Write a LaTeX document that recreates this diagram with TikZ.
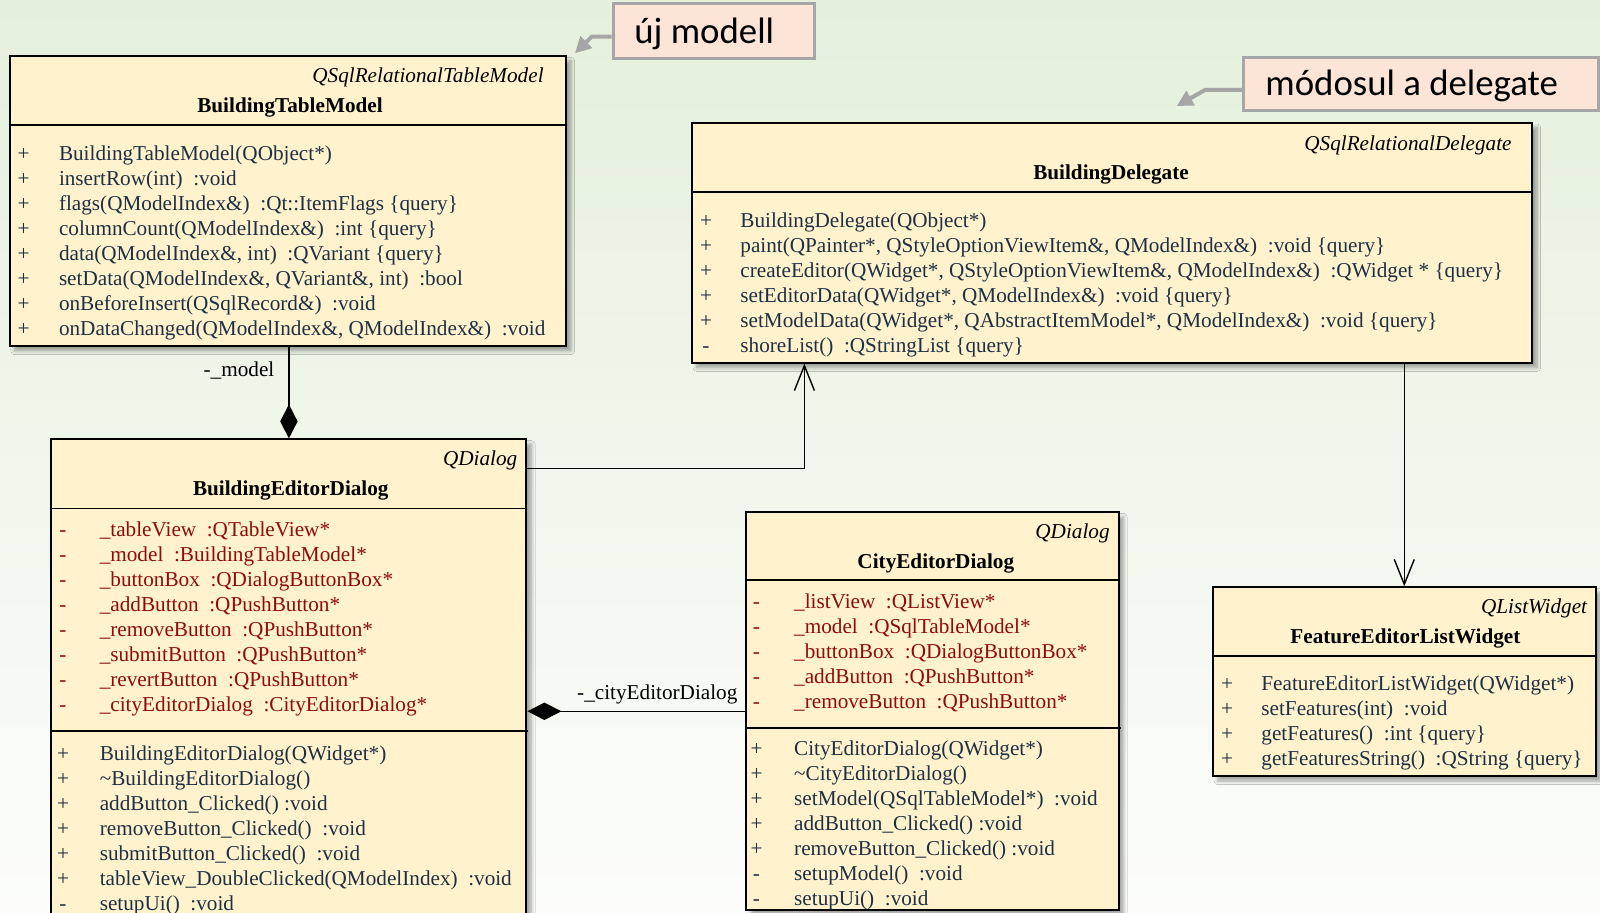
\documentclass[tikz,border=0pt]{standalone}
\usepackage{fontspec}
\setmainfont{Liberation Serif}
\newfontfamily\calfont{Carlito}
\usetikzlibrary{arrows.meta,calc,fit,shadows.blur}
\definecolor{bgtop}{RGB}{228,240,220}
\definecolor{bgbot}{RGB}{252,253,251}
\definecolor{boxfill}{RGB}{255,242,204}
\definecolor{attrred}{RGB}{142,12,12}
\definecolor{optext}{RGB}{30,48,68}
\definecolor{calfill}{RGB}{252,228,214}
\definecolor{calgray}{RGB}{166,166,166}
\newcommand\dsp{\hspace{0.5em}}
\newcommand\umlrows[6]{%
  \foreach \rs/\rt [count=\i from 0] in {#6}{%
    \node[signtxt,#5] (#1s\i) at (#2,{#4+25*\i}) {\rs};
    \node[rowtxt,#5] (#1t\i) at (#3,{#4+25*\i}) {\rt};
  }}
\tikzset{
  umlbox/.style={draw=black, line width=1pt, fill=boxfill, inner sep=0pt,
    blur shadow={shadow xshift=2.5pt, shadow yshift=-2.5pt, shadow blur steps=8, shadow opacity=35}},
  sepline/.style={line width=0.9pt},
  basefont/.style={font=\fontsize{10.6}{12.5}\selectfont},
  rowtxt/.style={anchor=base west, inner sep=0pt, basefont},
  signtxt/.style={anchor=base, inner sep=0pt, basefont},
  parent/.style={anchor=base east, inner sep=0pt, font=\fontsize{10.6}{12.5}\selectfont\itshape},
  cname/.style={anchor=base, inner sep=0pt, font=\fontsize{10.6}{12.5}\selectfont\bfseries},
  lbl/.style={anchor=base, inner sep=0pt, basefont},
  conn/.style={line width=0.7pt},
  comp/.style={conn, -{Diamond[length=17pt,width=8.7pt]}},
  assoc/.style={conn, -{Straight Barb[length=12.5pt,width=10pt]}},
  callout/.style={draw=calgray, line width=1.5pt, fill=calfill, inner sep=0pt},
  calarrow/.style={draw=calgray, line width=2pt, -{Triangle[length=8pt,width=8pt]}},
  caltext/.style={anchor=base west, inner sep=0pt, font=\calfont\fontsize{18.4}{22}\selectfont},
}
\begin{document}
\begin{tikzpicture}[x=0.5pt,y=-0.5pt]
\useasboundingbox (0,0) rectangle (1600,913);
\begin{scope}
\clip (0,0) rectangle (1600,913);
\shade[top color=bgtop, bottom color=bgbot] (0,0) rectangle (1600,913);

% boxes
\node[umlbox, fit={(9.5,56) (566,346)}] (btm) {};
\node[umlbox, fit={(691.7,122.7) (1532,362.7)}] (bd) {};
\node[umlbox, fit={(51.4,439.4) (526.4,940)}] (bed) {};
\node[umlbox, fit={(745.5,512) (1118.5,910)}] (ced) {};
\node[umlbox, fit={(1212.8,587.3) (1595.7,776)}] (felw) {};

% separators
\draw[sepline] (btm.west |- 0,124.7) -- (btm.east |- 0,124.7);
\draw[sepline] (bd.west |- 0,191.7) -- (bd.east |- 0,191.7);
\draw[sepline] (bed.west |- 0,508.5) -- (bed.east |- 0,508.5);
\draw[sepline] (bed.west |- 0,731) -- (528,731);
\draw[sepline] (ced.west |- 0,580) -- (ced.east |- 0,580);
\draw[sepline] (ced.west |- 0,728.3) -- (1121,728.3);
\draw[sepline] (felw.west |- 0,655.7) -- (felw.east |- 0,655.7);

% titles
\node[parent] (btmp) at (544,83) {QSqlRelationalTableModel};
\node[cname] (btmn) at (290,113) {BuildingTableModel};
\node[parent] (bdp) at (1512,150.3) {QSqlRelationalDelegate};
\node[cname] (bdn) at (1111,179.7) {BuildingDelegate};
\node[parent] (bedp) at (517.7,465.8) {QDialog};
\node[cname] (bedn) at (290.8,496) {BuildingEditorDialog};
\node[parent] (cedp) at (1110,538.7) {QDialog};
\node[cname] (cedn) at (935.8,568.7) {CityEditorDialog};
\node[parent] (felwp) at (1587.5,613.7) {QListWidget};
\node[cname] (felwn) at (1405.4,643.7) {FeatureEditorListWidget};

% rows
\umlrows{btmo}{23.5}{58.6}{160.8}{text=optext}{%
  +/{BuildingTableModel(QObject*)},
  +/{insertRow(int)\dsp:void},
  +/{flags(QModelIndex\&)\dsp:Qt::ItemFlags \{query\}},
  +/{columnCount(QModelIndex\&)\dsp:int \{query\}},
  +/{data(QModelIndex\&, int)\dsp:QVariant \{query\}},
  +/{setData(QModelIndex\&, QVariant\&, int)\dsp:bool},
  +/{onBeforeInsert(QSqlRecord\&)\dsp:void},
  +/{onDataChanged(QModelIndex\&, QModelIndex\&)\dsp:void}}
\umlrows{bdo}{706}{740}{227.5}{text=optext}{%
  +/{BuildingDelegate(QObject*)},
  +/{paint(QPainter*, QStyleOptionViewItem\&, QModelIndex\&)\dsp:void \{query\}},
  +/{createEditor(QWidget*, QStyleOptionViewItem\&, QModelIndex\&)\dsp:QWidget * \{query\}},
  +/{setEditorData(QWidget*, QModelIndex\&)\dsp:void \{query\}},
  +/{setModelData(QWidget*, QAbstractItemModel*, QModelIndex\&)\dsp:void \{query\}},
  -/{shoreList()\dsp:QStringList \{query\}}}
\umlrows{beda}{63}{99.4}{536.8}{text=attrred}{%
  -/{\_tableView\dsp:QTableView*},
  -/{\_model\dsp:BuildingTableModel*},
  -/{\_buttonBox\dsp:QDialogButtonBox*},
  -/{\_addButton\dsp:QPushButton*},
  -/{\_removeButton\dsp:QPushButton*},
  -/{\_submitButton\dsp:QPushButton*},
  -/{\_revertButton\dsp:QPushButton*},
  -/{\_cityEditorDialog\dsp:CityEditorDialog*}}
\umlrows{bedo}{63}{99.4}{760.5}{text=optext}{%
  +/{BuildingEditorDialog(QWidget*)},
  +/{\textasciitilde BuildingEditorDialog()},
  +/{addButton\_Clicked() :void},
  +/{removeButton\_Clicked()\dsp:void},
  +/{submitButton\_Clicked()\dsp:void},
  +/{tableView\_DoubleClicked(QModelIndex)\dsp:void},
  -/{setupUi()\dsp:void}}
\umlrows{ceda}{756.5}{793.8}{608.5}{text=attrred}{%
  -/{\_listView\dsp:QListView*},
  -/{\_model\dsp:QSqlTableModel*},
  -/{\_buttonBox\dsp:QDialogButtonBox*},
  -/{\_addButton\dsp:QPushButton*},
  -/{\_removeButton\dsp:QPushButton*}}
\umlrows{cedo}{756.5}{793.8}{755.8}{text=optext}{%
  +/{CityEditorDialog(QWidget*)},
  +/{\textasciitilde CityEditorDialog()},
  +/{setModel(QSqlTableModel*)\dsp:void},
  +/{addButton\_Clicked() :void},
  +/{removeButton\_Clicked() :void},
  -/{setupModel()\dsp:void},
  -/{setupUi()\dsp:void}}
\umlrows{felwo}{1227}{1261}{690.8}{text=optext}{%
  +/{FeatureEditorListWidget(QWidget*)},
  +/{setFeatures(int)\dsp:void},
  +/{getFeatures()\dsp:int \{query\}},
  +/{getFeaturesString()\dsp:QString \{query\}}}

% connectors
\draw[comp] (btm.south -| bed.north) -- (bed.north);
\node[lbl] (lmodel) at (239,377) {-\_model};
\draw[assoc] (bed.east |- 0,468.3) -| (bd.south -| 804.4,0);
\draw[assoc] (bd.south -| felw.north) -- (felw.north);
\draw[comp] (ced.west |- 0,711.3) -- (bed.east |- 0,711.3);
\node[lbl] (lcity) at (657.3,699) {-\_cityEditorDialog};

% callouts
\node[callout, fit={(613,4) (814,58.3)}] (cal1) {};
\node[caltext] (cal1t) at (634,44) {új modell};
\coordinate (tip1) at (575,53.3);
\draw[calarrow] (cal1.west |- 0,36.7) -- (591.7,36.7) -- (tip1);
\node[callout, fit={(1243.3,57.3) (1598,110.7)}] (cal2) {};
\node[caltext] (cal2t) at (1265,96) {módosul a delegate};
\coordinate (tip2) at (1176.7,106);
\draw[calarrow] (cal2.west |- 0,90) -- (1205,90) -- (tip2);
\end{scope}
\end{tikzpicture}
\end{document}
